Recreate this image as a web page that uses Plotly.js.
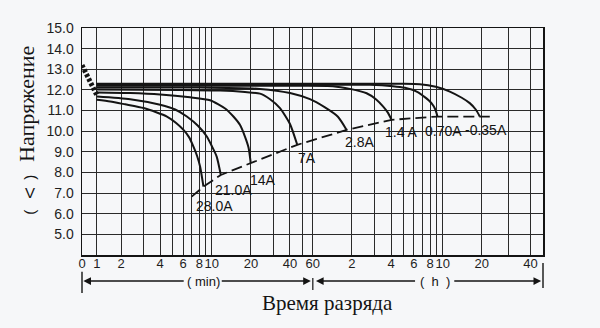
<!DOCTYPE html>
<html>
<head>
<meta charset="utf-8">
<script src="https://cdn.plot.ly/plotly-3.0.1.min.js"></script>
<style>
html,body{margin:0;padding:0;background:#f6f7f9;}
#chart{width:600px;height:328px;}
</style>
</head>
<body>
<div id="chart"></div>
<script>
// ---- data (time in minutes, voltage in V) ----
const currents = ["28.0A", "21.0A", "14A", "7A", "2.8A", "1.4 A", "0.70A", "-0.35A"];

const t28 = [1.3, 1.65, 2.15, 2.98, 3.73, 4.51, 5.31, 6.05, 6.69, 7.22, 7.7, 8.13, 8.62];
const v28 = [11.52, 11.44, 11.3, 11.12, 10.92, 10.71, 10.4, 10.06, 9.7, 9.25, 8.8, 8.28, 7.31];

const t21 = [1.3, 2.35, 4.0, 5.22, 6.42, 7.85, 9.15, 10.05, 10.9, 11.73];
const v21 = [11.68, 11.55, 11.28, 11.05, 10.71, 10.25, 9.74, 9.25, 8.77, 7.88];

const t14 = [1.3, 2.35, 4.0, 6.81, 9.7, 12.66, 14.66, 16.5, 18.0, 19.19, 19.95];
const v14 = [11.88, 11.85, 11.78, 11.64, 11.5, 11.1, 10.71, 10.3, 9.74, 9.2, 8.45];

const t7 = [1.3, 5.7, 11.6, 18.0, 23.5, 28.1, 33.5, 40.0, 45.5];
const v7 = [12.02, 12.0, 11.97, 11.9, 11.82, 11.55, 11.12, 10.35, 9.34];

const t2_8 = [1.3, 8.13, 23.5, 40.0, 57.0, 74.4, 93.6, 109.2];
const v2_8 = [12.12, 12.12, 12.05, 11.85, 11.55, 11.15, 10.7, 10.06];

const t1_4 = [1.3, 47.8, 85.7, 115.8, 155.7, 183.6, 209, 227, 242.5];
const v1_4 = [12.2, 12.2, 12.18, 12.05, 11.84, 11.55, 11.19, 10.9, 10.55];

const t0_70 = [1.3, 115.8, 165, 248, 307, 378, 437, 492, 527, 547];
const v0_70 = [12.25, 12.25, 12.25, 12.18, 12.1, 11.92, 11.65, 11.36, 11.05, 10.71];

const t0_35 = [1.3, 281, 400, 531, 681, 842, 970, 1079, 1159];
const v0_35 = [12.3, 12.3, 12.28, 12.15, 11.92, 11.62, 11.36, 11.05, 10.71];

// initial voltage drop right after discharge start
const dropT = [1.0, 1.3];
const dropV = [13.2, 11.75];

// end-voltage line extension points
const cutStartT = 7.0, cutStartV = 6.83;
const cutEndT = 1384, cutEndV = 10.71;

// axis ticks
const xTickVals = [1, 1.304, 2, 4, 6, 8, 10, 20, 40, 60, 120, 240, 360, 480, 600, 1200, 2845];
const xTickText = ["0", "1", "2", "4", "6", "8", "10", "20", "40", "60", "2", "4", "6", "8", "10", "20", "40"];
const xMinorVals = [3, 5, 7, 9, 30, 50, 180, 300, 420, 540, 1936];
const yTickVals = [5, 6, 7, 8, 9, 10, 11, 12, 13, 14, 15];

// ---- build ----
const seriesT = [t28, t21, t14, t7, t2_8, t1_4, t0_70, t0_35];
const seriesV = [v28, v21, v14, v7, v2_8, v1_4, v0_70, v0_35];
const labelShift = [[11, -19], [13, -15], [12, -17], [10, -13], [13, -12], [10, -12], [6, -14], [6, -13]];

const INK = '#141414';
const traces = [];
seriesT.forEach((t, i) => {
  traces.push({
    x: t, y: seriesV[i], type: 'scatter', mode: 'lines',
    line: {color: INK, width: 2, shape: 'spline', smoothing: 0.6},
    hoverinfo: 'skip', showlegend: false
  });
});
traces.push({
  x: dropT, y: dropV, type: 'scatter', mode: 'lines',
  line: {color: INK, width: 5, dash: '3px,2px'}, hoverinfo: 'skip', showlegend: false
});
const cutT = [cutStartT].concat(seriesT.map(t => t[t.length - 1]), [cutEndT]);
const cutV = [cutStartV].concat(seriesV.map(v => v[v.length - 1]), [cutEndV]);
traces.push({
  x: cutT, y: cutV, type: 'scatter', mode: 'lines',
  line: {color: INK, width: 1.8, dash: '11px,5px'}, hoverinfo: 'skip', showlegend: false
});

const sans = 'Liberation Sans, Arial, Helvetica, sans-serif';
const serif = 'Liberation Serif, Times New Roman, serif';

const annotations = [];
function ann(o) { annotations.push(Object.assign({xanchor: 'center', yanchor: 'middle', showarrow: false, textangle: 0}, o)); }
seriesT.forEach((t, i) => {
  ann({
    x: Math.log10(t[t.length - 1]), y: seriesV[i][seriesV[i].length - 1],
    xref: 'x', yref: 'y', text: currents[i],
    xshift: labelShift[i][0], yshift: labelShift[i][1],
    font: {family: sans, size: 14, color: INK}
  });
});
// axis titles
ann({xref: 'paper', yref: 'paper', x: -0.119, y: 0.666, text: 'Напряжение',
  textangle: -90, font: {family: serif, size: 22, color: INK}});
ann({xref: 'paper', yref: 'paper', x: -0.113, y: 0.19, text: '(',
  textangle: -90, font: {family: sans, size: 15, color: INK}});
ann({xref: 'paper', yref: 'paper', x: -0.113, y: 0.2735, text: 'V',
  textangle: 0, font: {family: sans, size: 15, color: INK}});
ann({xref: 'paper', yref: 'paper', x: -0.113, y: 0.344, text: ')',
  textangle: -90, font: {family: sans, size: 15, color: INK}});
ann({xref: 'paper', yref: 'paper', x: 0.5336, y: -0.2117, text: 'Время разряда',
  font: {family: serif, size: 21, color: INK}});
// unit labels
const rowY = -0.1147;
ann({xref: 'x', yref: 'paper', x: 0.935, y: rowY, text: '( min)',
  font: {family: sans, size: 13, color: INK}});
ann({xref: 'x', yref: 'paper', x: 2.718, y: rowY, text: '(\u00a0\u00a0h\u00a0\u00a0)',
  font: {family: sans, size: 13, color: INK}});
// arrows
const arrows = [[0.01, 0.795], [1.763, 1.065], [1.802, 2.577], [3.537, 2.856]];
arrows.forEach(a => {
  annotations.push({xref: 'x', yref: 'paper', x: a[0], y: rowY, axref: 'x', ayref: 'pixel',
    ax: a[1], ay: 0, text: '', showarrow: true, arrowhead: 2, arrowsize: 1.1,
    arrowwidth: 1.4, arrowcolor: INK});
});

const shapes = [
  {type: 'line', xref: 'paper', yref: 'paper', x0: 0, x1: 0, y0: -0.0737, y1: -0.1676, line: {color: INK, width: 1.4}},
  {type: 'line', xref: 'paper', yref: 'paper', x0: 0.5007, x1: 0.5007, y0: -0.1015, y1: -0.154, line: {color: INK, width: 1.2}},
  {type: 'line', xref: 'paper', yref: 'paper', x0: 1, x1: 1, y0: -0.0353, y1: -0.1455, line: {color: INK, width: 1.4}}
];

const layout = {
  width: 600, height: 328,
  margin: {l: 82, r: 57, t: 28, b: 73, pad: 0},
  paper_bgcolor: '#f6f7f9', plot_bgcolor: '#f6f7f9',
  showlegend: false,
  xaxis: {
    type: 'log', range: [0, 3.551],
    tickmode: 'array', tickvals: xTickVals, ticktext: xTickText, tickangle: 0,
    ticks: '', showgrid: true, gridcolor: '#2a2a2a', gridwidth: 1,
    minor: {tickmode: 'array', tickvals: xMinorVals, showgrid: true, gridcolor: '#2a2a2a', gridwidth: 1, ticks: ''},
    showline: true, mirror: true, linecolor: INK, linewidth: 1.5,
    zeroline: false, fixedrange: true, ticklabelstandoff: -4,
    tickfont: {family: sans, size: 13, color: '#1e1e1e'}
  },
  yaxis: {
    range: [4, 15], tickmode: 'array', tickvals: yTickVals, tickformat: '.1f',
    ticks: '', showgrid: true, gridcolor: '#2a2a2a', gridwidth: 1,
    showline: true, mirror: true, linecolor: INK, linewidth: 1.5,
    zeroline: false, fixedrange: true, ticklabelstandoff: 4,
    tickfont: {family: sans, size: 14, color: '#1e1e1e'}
  },
  annotations: annotations,
  shapes: shapes
};

Plotly.newPlot('chart', traces, layout, {staticPlot: true, displayModeBar: false});
</script>
</body>
</html>
